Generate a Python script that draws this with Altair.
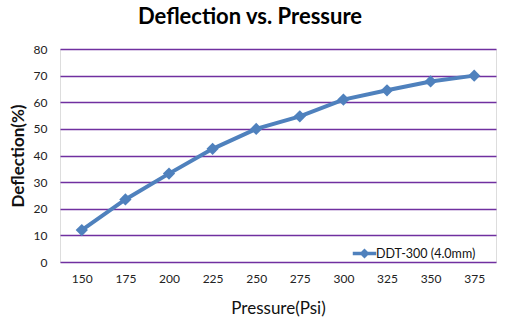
import altair as alt
import pandas as pd

pressure = ["150", "175", "200", "225", "250", "275", "300", "325", "350", "375"]
deflection = [12, 23.5, 33.2, 42.5, 50, 54.7, 61, 64.5, 67.8, 70]
series = "DDT-300 (4.0mm)"

df = pd.DataFrame({"Pressure": pressure, "Deflection": deflection, "Series": series})

FONT = "Lato"
BLUE = "#4F81BD"

base = alt.Chart(df).encode(
    x=alt.X("Pressure:O", sort=pressure,
            scale=alt.Scale(type="point", padding=0.5),
            axis=alt.Axis(title="Pressure(Psi)", labelAngle=0, labelPadding=11,
                          ticks=False, domain=False, grid=False,
                          labelFontSize=12, labelColor="#222222", labelFont=FONT,
                          titleFont=FONT, titleFontSize=17, titleFontWeight="normal",
                          titleColor="#111111", titlePadding=16)),
    y=alt.Y("Deflection:Q", scale=alt.Scale(domain=[0, 80], nice=False),
            axis=alt.Axis(title="Deflection(%)", values=[0, 10, 20, 30, 40, 50, 60, 70, 80],
                          ticks=False, domain=False, grid=True, gridColor="#7030A0",
                          gridWidth=1.3, labelPadding=13, labelFontSize=12,
                          labelColor="#222222", labelFont=FONT,
                          titleFont=FONT, titleFontSize=17, titleFontWeight="bold",
                          titleColor="#111111", titlePadding=6)),
    color=alt.Color("Series:N", scale=alt.Scale(range=[BLUE]),
                    legend=alt.Legend(title=None, orient="none", legendX=296, legendY=196,
                                      symbolType="M-1.8,0H1.8M0,-0.4L0.4,0L0,0.4L-0.4,0Z",
                                      symbolSize=170, symbolStrokeWidth=3.5,
                                      symbolFillColor=BLUE, symbolStrokeColor=BLUE,
                                      labelFont=FONT, labelFontSize=12.5, labelColor="#111111",
                                      labelOffset=3)),
)

line = base.mark_line(strokeWidth=4)
points = base.mark_point(shape="diamond", filled=True, size=150, opacity=1)

chart = (line + points).properties(
    width=436, height=213,
    title=alt.TitleParams("Deflection vs. Pressure", font=FONT, fontSize=22,
                          fontWeight="bold", color="#000000", anchor="middle",
                          dx=-28, offset=14),
    autosize=alt.AutoSizeParams(type="none"),
    padding={"left": 60, "top": 49, "right": 10, "bottom": 65},
).configure_view(stroke=None).configure(background="white")

chart.save("out.html", embed_options={"renderer": "svg", "actions": False})
